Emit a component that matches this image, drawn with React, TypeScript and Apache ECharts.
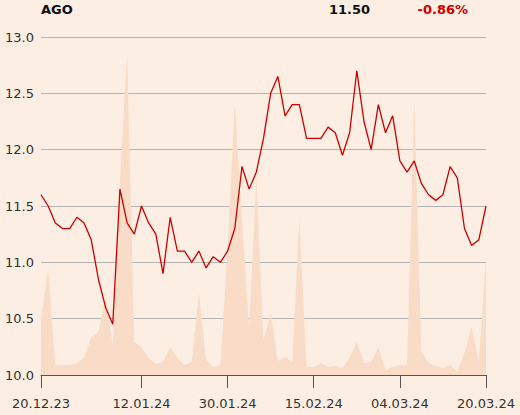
import React, { useEffect, useRef } from "react";
import * as echarts from "echarts";

const dates = [
  "20.12.23","21.12.23","22.12.23","27.12.23","28.12.23","29.12.23","02.01.24","03.01.24","04.01.24","05.01.24",
  "08.01.24","09.01.24","10.01.24","11.01.24","12.01.24","15.01.24","16.01.24","17.01.24","18.01.24","19.01.24",
  "22.01.24","23.01.24","24.01.24","25.01.24","26.01.24","29.01.24","30.01.24","31.01.24","01.02.24","02.02.24",
  "05.02.24","06.02.24","07.02.24","08.02.24","09.02.24","12.02.24","13.02.24","14.02.24","15.02.24","16.02.24",
  "19.02.24","20.02.24","21.02.24","22.02.24","23.02.24","26.02.24","27.02.24","28.02.24","29.02.24","01.03.24",
  "04.03.24","05.03.24","06.03.24","07.03.24","08.03.24","11.03.24","12.03.24","13.03.24","14.03.24","15.03.24",
  "18.03.24","19.03.24","20.03.24"
];

const shownDates = ["20.12.23", "12.01.24", "30.01.24", "15.02.24", "04.03.24", "20.03.24"];

const prices = [
  11.6, 11.5, 11.35, 11.3, 11.3, 11.4, 11.35, 11.2, 10.85, 10.6,
  10.45, 11.65, 11.35, 11.25, 11.5, 11.35, 11.25, 10.9, 11.4, 11.1,
  11.1, 11.0, 11.1, 10.95, 11.05, 11.0, 11.1, 11.3, 11.85, 11.65,
  11.8, 12.1, 12.5, 12.65, 12.3, 12.4, 12.4, 12.1, 12.1, 12.1,
  12.2, 12.15, 11.95, 12.15, 12.7, 12.25, 12.0, 12.4, 12.15, 12.3,
  11.9, 11.8, 11.9, 11.7, 11.6, 11.55, 11.6, 11.85, 11.75, 11.3,
  11.15, 11.2, 11.5
];

const volumes = [
  56, 106, 10, 10, 10, 12, 17, 38, 43, 78,
  30, 195, 323, 33, 28, 17, 11, 13, 28, 17,
  10, 13, 82, 15, 8, 10, 128, 272, 155, 48,
  197, 35, 62, 14, 18, 13, 155, 8, 8, 12,
  8, 9, 7, 17, 33, 12, 13, 28, 5, 8,
  10, 10, 275, 23, 12, 9, 7, 10, 3, 22,
  48, 13, 117
];

const yTicks = [10.0, 10.5, 11.0, 11.5, 12.0, 12.5, 13.0];

const ticker = "AGO";
const lastPrice = "11.50";
const change = "-0.86%";

export default function App() {
  const ref = useRef<HTMLDivElement>(null);
  useEffect(() => {
    if (!ref.current) return;
    const chart = echarts.init(ref.current, null, { renderer: "svg" });
    const font = "DejaVu Sans";
    chart.setOption({
      animation: false,
      backgroundColor: "#FCEEE2",
      textStyle: { fontFamily: font },
      grid: { left: 41, right: 34, top: 37, bottom: 40 },
      graphic: [
        {
          type: "text",
          left: 41,
          top: 3,
          style: { text: ticker, font: `bold 13px ${font}`, fill: "#111" },
        },
        {
          type: "text",
          right: 150,
          top: 3,
          style: { text: lastPrice, font: `bold 13px ${font}`, fill: "#111", textAlign: "right" },
        },
        {
          type: "text",
          right: 52,
          top: 3,
          style: { text: change, font: `bold 13px ${font}`, fill: "#CC0000", textAlign: "right" },
        },
      ],
      xAxis: {
        type: "category",
        data: dates,
        boundaryGap: false,
        axisLine: { show: true, lineStyle: { color: "#555", width: 1 } },
        axisTick: {
          show: true,
          length: 13,
          lineStyle: { color: "#555" },
          interval: (i: number, v: string) => shownDates.includes(v),
        },
        axisLabel: {
          interval: (i: number, v: string) => shownDates.includes(v),
          margin: 22,
          color: "#333",
          fontSize: 13,
          fontFamily: font,
          showMinLabel: true,
          showMaxLabel: true,
        },
        splitLine: { show: false },
      },
      yAxis: [
        {
          type: "value",
          min: yTicks[0],
          max: yTicks[yTicks.length - 1],
          interval: 0.5,
          axisLine: { show: false },
          axisTick: { show: false },
          axisLabel: {
            margin: 7,
            color: "#333",
            fontSize: 13,
            fontFamily: font,
            formatter: (v: number) => v.toFixed(1),
          },
          splitLine: { show: true, lineStyle: { color: "#B4B4B4", width: 1 } },
        },
        {
          type: "value",
          min: 0,
          max: 338,
          show: false,
          splitLine: { show: false },
        },
      ],
      series: [
        {
          type: "line",
          yAxisIndex: 1,
          data: volumes,
          symbol: "none",
          lineStyle: { width: 0 },
          areaStyle: { color: "#F8DCC7", opacity: 1 },
          z: 1,
        },
        {
          type: "line",
          yAxisIndex: 0,
          data: prices,
          symbol: "none",
          lineStyle: { color: "#CC0000", width: 1.3 },
          z: 3,
        },
      ],
    });
    return () => chart.dispose();
  }, []);
  return (
    <div
      ref={ref}
      style={{ position: "fixed", left: 0, top: 0, width: 520, height: 415 }}
    />
  );
}
